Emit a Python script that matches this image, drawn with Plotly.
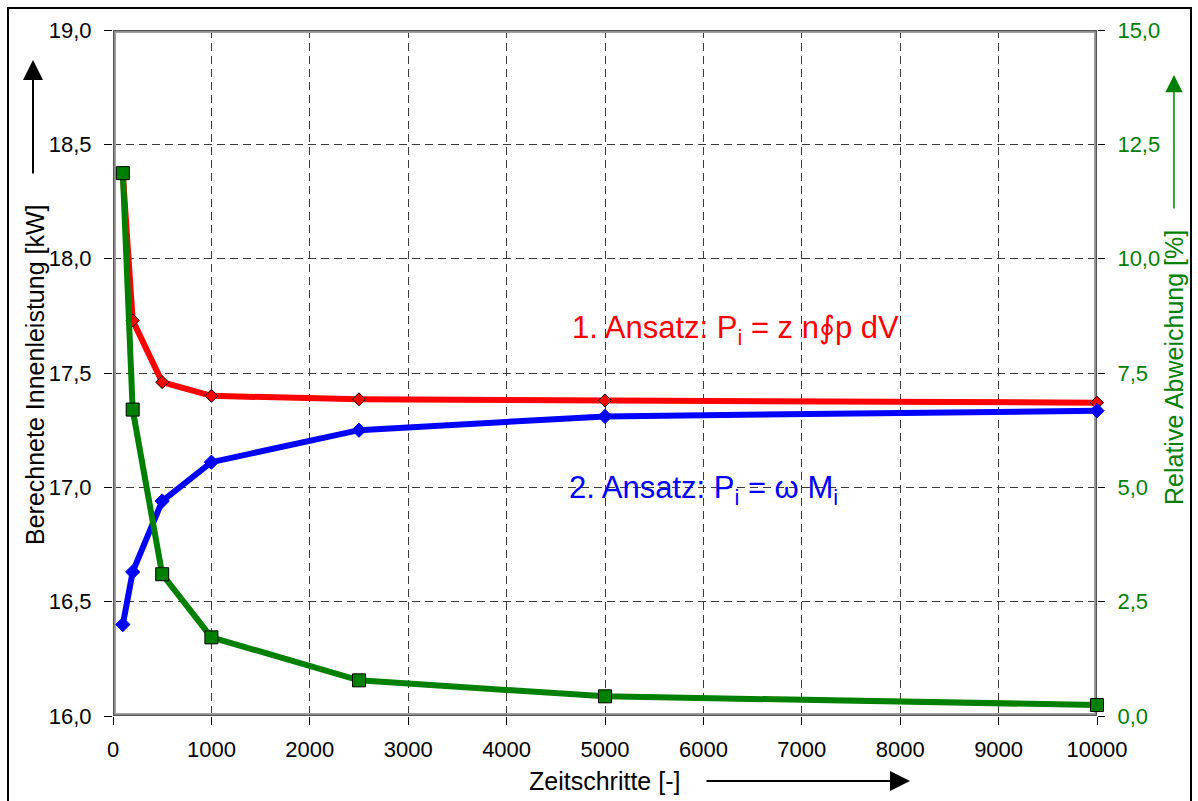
import plotly.graph_objects as go

# ---- data ----
zeitschritte = [100, 200, 500, 1000, 2500, 5000, 10000]
ansatz1_kw = [18.37, 17.73, 17.46, 17.40, 17.385, 17.38, 17.37]
ansatz2_kw = [16.40, 16.63, 16.94, 17.11, 17.25, 17.31, 17.335]
abweichung_pct = [11.87, 6.70, 3.10, 1.72, 0.78, 0.43, 0.24]

x_tickvals = [0, 1000, 2000, 3000, 4000, 5000, 6000, 7000, 8000, 9000, 10000]
x_ticktext = ["0", "1000", "2000", "3000", "4000", "5000", "6000", "7000", "8000", "9000", "10000"]
y_tickvals = [16.0, 16.5, 17.0, 17.5, 18.0, 18.5, 19.0]
y_ticktext = ["16,0", "16,5", "17,0", "17,5", "18,0", "18,5", "19,0"]
y2_tickvals = [0, 2.5, 5.0, 7.5, 10.0, 12.5, 15.0]
y2_ticktext = ["0,0", "2,5", "5,0", "7,5", "10,0", "12,5", "15,0"]

FONT = "Arial, Liberation Sans, sans-serif"
RED = "#ff0000"
BLUE = "#0000ff"
GREEN = "#008000"

# plot area in pixels
L, R, T, B = 113, 1097, 30, 716
W, H = 1198, 801
def px(xp):
    return (xp - L) / (R - L)
def py(yp):
    return (B - yp) / (B - T)

fig = go.Figure()
fig.add_trace(go.Scatter(
    x=zeitschritte, y=ansatz1_kw, mode="lines+markers", cliponaxis=False,
    line=dict(color=RED, width=6),
    marker=dict(symbol="diamond", size=10, color=RED, line=dict(color="black", width=1)),
    showlegend=False))
fig.add_trace(go.Scatter(
    x=zeitschritte, y=ansatz2_kw, mode="lines+markers", cliponaxis=False,
    line=dict(color=BLUE, width=6),
    marker=dict(symbol="diamond", size=11, color=BLUE, line=dict(color=BLUE, width=1)),
    showlegend=False))
fig.add_trace(go.Scatter(
    x=zeitschritte, y=abweichung_pct, yaxis="y2", mode="lines+markers", cliponaxis=False,
    line=dict(color=GREEN, width=6),
    marker=dict(symbol="square", size=13, color=GREEN, line=dict(color="black", width=1)),
    showlegend=False))

grid = dict(showgrid=True, gridcolor="#3a3a3a", gridwidth=1, griddash="8px,5px")

fig.update_layout(
    width=W, height=H,
    margin=dict(l=L, r=W - R, t=T, b=H - B, pad=0),
    paper_bgcolor="white", plot_bgcolor="white",
    font=dict(family=FONT, size=22, color="black"),
    xaxis=dict(range=[0, 10000], tickvals=x_tickvals, ticktext=x_ticktext,
               ticks="outside", ticklen=8, tickcolor="black", ticklabelstandoff=6,
               zeroline=False, showline=False, **grid),
    yaxis=dict(range=[16, 19], tickvals=y_tickvals, ticktext=y_ticktext,
               ticks="outside", ticklen=8, tickcolor="black", ticklabelstandoff=8,
               zeroline=False, showline=False, **grid),
    yaxis2=dict(range=[0, 15], tickvals=y2_tickvals, ticktext=y2_ticktext,
                overlaying="y", side="right", showgrid=False, zeroline=False, showline=False,
                ticks="outside", ticklen=7, tickcolor="black", ticklabelstandoff=8,
                tickfont=dict(color=GREEN, size=22, family=FONT)),
)

# plot frame (thick gray)
fig.add_shape(type="rect", xref="x", yref="y", x0=0, x1=10000, y0=16, y1=19,
              line=dict(color="#a0a0a0", width=6), layer="between")
fig.add_shape(type="rect", xref="x", yref="y", x0=0, x1=10000, y0=16, y1=19,
              line=dict(color="#555555", width=2.5), layer="between")

# outer figure border
fig.add_shape(type="rect", xref="paper", yref="paper",
              x0=px(8), x1=px(1191), y0=py(805), y1=py(8),
              line=dict(color="black", width=2), layer="above")

# axis titles
fig.add_annotation(text="Berechnete Innenleistung [kW]", xref="paper", yref="paper",
                   x=px(35), y=py(375), xanchor="center", yanchor="middle",
                   textangle=-90, showarrow=False,
                   font=dict(size=25, color="black", family=FONT))
fig.add_annotation(text="Relative Abweichung [%]", xref="paper", yref="paper",
                   x=px(1174), y=py(368), xanchor="center", yanchor="middle",
                   textangle=-90, showarrow=False,
                   font=dict(size=25, color=GREEN, family=FONT))
fig.add_annotation(text="Zeitschritte [-]", xref="paper", yref="paper",
                   x=px(604), y=py(781), xanchor="center", yanchor="middle", showarrow=False,
                   font=dict(size=25, color="black", family=FONT))

# arrows
fig.add_annotation(text="", xref="paper", yref="paper", x=px(33), y=py(60),
                   ax=0, ay=115, showarrow=True, arrowhead=2, arrowsize=2,
                   arrowwidth=2, arrowcolor="black")
fig.add_annotation(text="", xref="paper", yref="paper", x=px(1174), y=py(75),
                   ax=0, ay=135, showarrow=True, arrowhead=2, arrowsize=2.3,
                   arrowwidth=1.5, arrowcolor=GREEN)
fig.add_annotation(text="", xref="paper", yref="paper", x=px(910), y=py(781),
                   ax=-205, ay=0, showarrow=True, arrowhead=2, arrowsize=2,
                   arrowwidth=2, arrowcolor="black")

# series labels
fig.add_annotation(text="1. Ansatz: P<sub>i</sub> = z n\u222ep dV", xref="paper", yref="paper",
                   x=px(570), y=py(330), xanchor="left", yanchor="middle", showarrow=False,
                   font=dict(size=31, color=RED, family=FONT))
fig.add_annotation(text="2. Ansatz: P<sub>i</sub> = \u03c9 M<sub>i</sub>", xref="paper", yref="paper",
                   x=px(567), y=py(490), xanchor="left", yanchor="middle", showarrow=False,
                   font=dict(size=31, color=BLUE, family=FONT))

fig.write_html("out.html", post_script="document.body.style.margin='0px';",
               config={"displayModeBar": False})
